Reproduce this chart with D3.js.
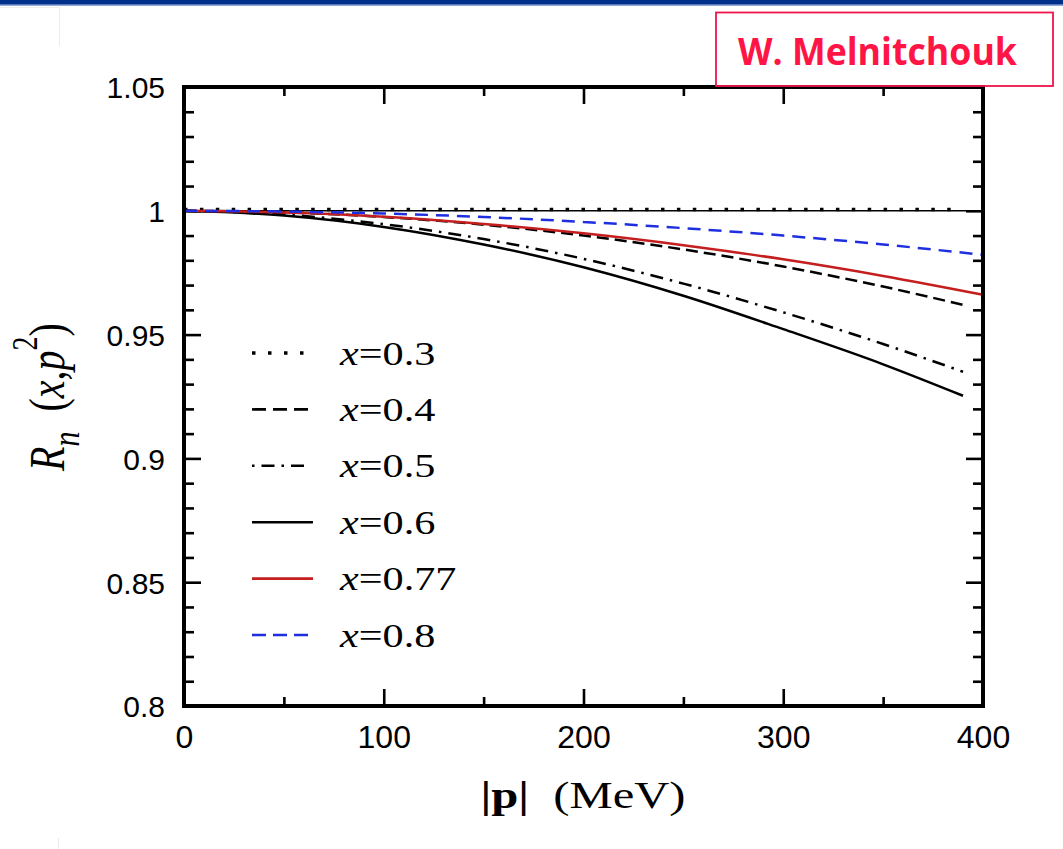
<!DOCTYPE html>
<html>
<head>
<meta charset="utf-8">
<script src="https://cdn.jsdelivr.net/npm/d3@7"></script>
<style>
html,body{margin:0;padding:0;background:#fff;}
svg{display:block;}
</style>
</head>
<body>
<svg id="chart" width="1063" height="849"></svg>
<script>
// ---- data ----
const momentumA = [0, 50, 100, 150, 200, 250, 300, 350, 390];      // |p| MeV, black curves
const momentumB = [0, 50, 100, 150, 200, 250, 300, 350, 400];      // |p| MeV, red/blue curves
const rX03  = [1.0005, 1.0005, 1.0005, 1.0005, 1.0005, 1.0005, 1.0005, 1.0005, 1.0005];
const rX04  = [1.0, 0.9994, 0.9975, 0.9944, 0.9900, 0.9844, 0.9775, 0.9694, 0.9620];
const rX05  = [1.0, 0.9985, 0.9946, 0.9886, 0.9806, 0.9706, 0.9590, 0.9462, 0.9350];
const rX06  = [1.0, 0.9981, 0.9935, 0.9864, 0.9772, 0.9657, 0.9522, 0.9380, 0.9253];
const rX077 = [1.0, 0.9993, 0.9976, 0.9947, 0.9909, 0.9861, 0.9804, 0.9737, 0.9661];
const rX08  = [1.0, 0.9997, 0.9989, 0.9975, 0.9955, 0.9930, 0.9900, 0.9864, 0.9822];
const legendLabels = ["0.3", "0.4", "0.5", "0.6", "0.77", "0.8"];
const xMajorTicks = [0, 100, 200, 300, 400];
const xMinorTicks = [50, 150, 250, 350];
const yMajorTicks = [0.8, 0.85, 0.9, 0.95, 1, 1.05];
const yMinorTicks = [0.81,0.82,0.83,0.84,0.86,0.87,0.88,0.89,0.91,0.92,0.93,0.94,0.96,0.97,0.98,0.99,1.01,1.02,1.03,1.04];
const yTickLabels = ["0.8", "0.85", "0.9", "0.95", "1", "1.05"];

const series = [
  {p: momentumA, r: rX03,  color: "#000", dash: "3.5 12.4", legDash: "3.5 12.5", width: 3.5},
  {p: momentumA, r: rX04,  color: "#000", dash: "12 6",     legDash: "14 7",     width: 2.5},
  {p: momentumA, r: rX05,  color: "#000", dash: "13 7 2.5 7", legDash: "2.5 7 13 7", width: 2.5},
  {p: momentumA, r: rX06,  color: "#000", dash: null,       legDash: null,       width: 2.5},
  {p: momentumB, r: rX077, color: "#c41e1e", dash: null,    legDash: null,       width: 2.5},
  {p: momentumB, r: rX08,  color: "#1f2fe0", dash: "13 8",  legDash: "14 7",     width: 2.5}
];

const svg = d3.select("#chart");
const SERIF = "'Liberation Serif', 'Times New Roman', serif";
const SANS = "'Liberation Sans', Arial, Helvetica, sans-serif";
const HS = 1.28; // horizontal stretch of the serif labels in the source image

// top banner
svg.append("rect").attr("x",0).attr("y",0).attr("width",1063).attr("height",4.5).attr("fill","#00308a");
svg.append("rect").attr("x",0).attr("y",4.3).attr("width",1063).attr("height",1.3).attr("fill","#4a6cc0");
// faint slide remnants
svg.append("line").attr("x1",59.5).attr("x2",59.5).attr("y1",7).attr("y2",46).attr("stroke","#ececec").attr("stroke-width",1);
svg.append("line").attr("x1",0).attr("x2",59.5).attr("y1",7.5).attr("y2",7.5).attr("stroke","#f0f0f0").attr("stroke-width",1);
svg.append("line").attr("x1",58.5).attr("x2",58.5).attr("y1",838).attr("y2",849).attr("stroke","#ececec").attr("stroke-width",1);

const L = 184, R = 983, T = 87, B = 706;
const x = d3.scaleLinear().domain([0, 400]).range([L, R]);
const y = d3.scaleLinear().domain([0.8, 1.05]).range([B, T]);

const tickStroke = 2.6;
function styleAxis(g){
  g.select(".domain").remove();
  g.selectAll(".tick line").attr("stroke","#000").attr("stroke-width",tickStroke);
}
svg.append("g").attr("transform",`translate(0,${B})`)
  .call(d3.axisBottom(x).tickValues(xMajorTicks).tickSize(-17).tickFormat(d3.format("d")))
  .call(styleAxis)
  .call(g => g.selectAll(".tick text").attr("y",null).attr("dy",null).attr("transform","translate(0,42)")
      .attr("font-family",SANS).attr("font-size",32).attr("fill","#000"));
svg.append("g").attr("transform",`translate(0,${B})`)
  .call(d3.axisBottom(x).tickValues(xMinorTicks).tickSize(-9).tickFormat(""))
  .call(styleAxis);
svg.append("g").attr("transform",`translate(0,${T})`)
  .call(d3.axisTop(x).tickValues(xMajorTicks).tickSize(-17).tickFormat(""))
  .call(styleAxis);
svg.append("g").attr("transform",`translate(0,${T})`)
  .call(d3.axisTop(x).tickValues(xMinorTicks).tickSize(-9).tickFormat(""))
  .call(styleAxis);
svg.append("g").attr("transform",`translate(${L},0)`)
  .call(d3.axisLeft(y).tickValues(yMajorTicks).tickSize(-17).tickFormat((d,i) => yTickLabels[i]))
  .call(styleAxis)
  .call(g => g.selectAll(".tick text").attr("x",-19).attr("dy","0.36em")
      .attr("font-family",SANS).attr("font-size",30).attr("fill","#000"));
svg.append("g").attr("transform",`translate(${L},0)`)
  .call(d3.axisLeft(y).tickValues(yMinorTicks).tickSize(-10).tickFormat(""))
  .call(styleAxis);
svg.append("g").attr("transform",`translate(${R},0)`)
  .call(d3.axisRight(y).tickValues(yMajorTicks).tickSize(-17).tickFormat(""))
  .call(styleAxis);
svg.append("g").attr("transform",`translate(${R},0)`)
  .call(d3.axisRight(y).tickValues(yMinorTicks).tickSize(-10).tickFormat(""))
  .call(styleAxis);

// reference line R=1
svg.append("line").attr("x1",L).attr("x2",R).attr("y1",y(1)).attr("y2",y(1))
  .attr("stroke","#000").attr("stroke-width",1.4);

// curves
const line = d3.line().curve(d3.curveMonotoneX);
series.forEach(s => {
  const pts = s.p.map((p,i) => [x(p), y(s.r[i])]);
  svg.append("path").attr("d", line(pts)).attr("fill","none")
    .attr("stroke", s.color).attr("stroke-width", s.width)
    .attr("stroke-dasharray", s.dash).attr("stroke-linecap", "butt");
});

// frame
svg.append("rect").attr("x",L).attr("y",T).attr("width",R-L).attr("height",B-T)
  .attr("fill","none").attr("stroke","#000").attr("stroke-width",4);

// legend
const legY0 = 353, legStep = 56.4;
series.forEach((s,i) => {
  const yy = legY0 + i*legStep;
  const x2 = (s.legDash === null) ? 313 : (i === 0 ? 306 : 309);
  svg.append("line").attr("x1",252).attr("x2",x2).attr("y1",yy).attr("y2",yy)
    .attr("stroke", s.color).attr("stroke-width", i === 0 ? 3.5 : 2.6)
    .attr("stroke-dasharray", s.legDash);
  const t = svg.append("text").attr("transform",`translate(340,${yy+11.5}) scale(${HS},1)`)
    .attr("font-family",SERIF).attr("font-size",33).attr("fill","#000");
  t.append("tspan").attr("font-style","italic").text("x");
  t.append("tspan").text("=" + legendLabels[i]);
});

// x label
const xl = svg.append("text").attr("transform",`translate(583,808) scale(${HS},1)`).attr("text-anchor","middle")
  .attr("font-family",SERIF).attr("font-size",38).attr("fill","#000");
xl.append("tspan").attr("font-weight","bold").text("|p|");
xl.append("tspan").attr("xml:space","preserve").text("\u2002(MeV)");

// y label
const yl = svg.append("text").attr("transform",`translate(64,397) scale(${HS},1) rotate(-90)`).attr("text-anchor","middle")
  .attr("font-family",SERIF).attr("font-size",40).attr("fill","#000");
yl.append("tspan").attr("font-style","italic").text("R");
yl.append("tspan").attr("font-style","italic").attr("font-size",30).attr("dy",12).text("n");
yl.append("tspan").attr("dy",-12).text("\u2002(");
yl.append("tspan").attr("font-style","italic").text("x");
yl.append("tspan").text(",");
yl.append("tspan").attr("font-style","italic").text("p");
yl.append("tspan").attr("font-size",28).attr("dy",-21).text("2");
yl.append("tspan").attr("dy",21).text(")");

// author box
svg.append("rect").attr("x",716).attr("y",12.5).attr("width",337).attr("height",73.5)
  .attr("fill","none").attr("stroke","#f0154a").attr("stroke-width",1.8);
svg.append("text").attr("x",738).attr("y",65).attr("textLength",279).attr("lengthAdjust","spacingAndGlyphs")
  .attr("font-family","'Comic Sans MS', 'Open Sans', Lato, sans-serif").attr("font-weight","bold")
  .attr("font-size",37).attr("fill","#ff1446").text("W. Melnitchouk");
</script>
</body>
</html>
